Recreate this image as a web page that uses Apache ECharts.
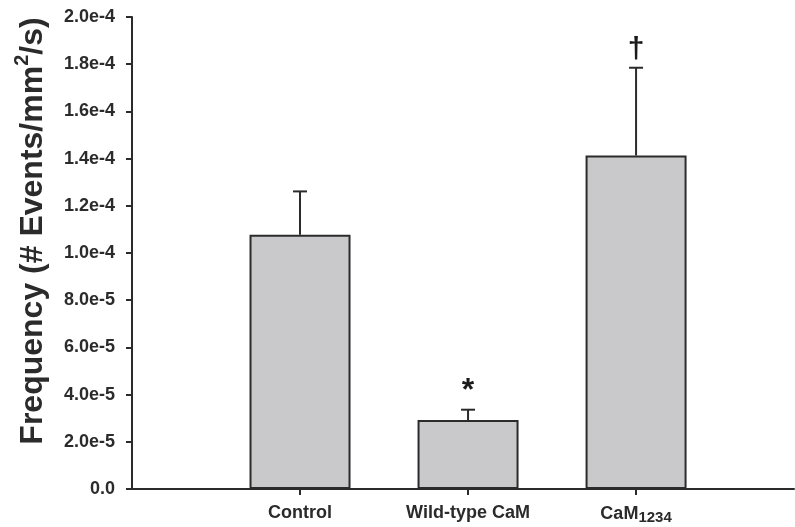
<!DOCTYPE html>
<html>
<head>
<meta charset="utf-8">
<script src="https://cdn.jsdelivr.net/npm/echarts@6/dist/echarts.min.js"></script>
<style>
  html, body { margin: 0; padding: 0; background: #fff; }
  #chart { width: 795px; height: 527px; }
</style>
</head>
<body>
<div id="chart"></div>
<script>
// Groups along the x axis and their positions
const categories = ['Control', 'Wild-type CaM', 'CaM1234'];
const positions = [1, 2, 3];
// Mean event frequency (# events / mm^2 / s)
const means = [1.077e-4, 2.92e-5, 1.413e-4];
// Upper error (SEM)
const errors = [1.84e-5, 4.4e-6, 3.72e-5];
// Significance markers drawn above the error bars
const marks = ['', '*', '\u2020'];
// Y tick labels, from 0 up to 2.0e-4
const yTickLabels = ['0.0', '2.0e-5', '4.0e-5', '6.0e-5', '8.0e-5', '1.0e-4',
                     '1.2e-4', '1.4e-4', '1.6e-4', '1.8e-4', '2.0e-4'];

const FONT = 'Liberation Sans, Arial, sans-serif';
const INK = '#2b2b2b';

const chart = echarts.init(document.getElementById('chart'), null, { renderer: 'canvas' });

const barData = positions.map((p, i) => [p, means[i]]);
const errData = positions.map((p, i) => [p, means[i], errors[i], i]);

function catLabel(v) {
  const i = positions.indexOf(Math.round(v));
  if (i < 0) return '';
  const name = categories[i];
  if (name === 'CaM1234') return '{b|CaM}{sub|1234}';
  return '{b|' + name + '}';
}

chart.setOption({
  backgroundColor: '#ffffff',
  animation: false,
  grid: { left: 132, right: 1, top: 17, bottom: 38, outerBoundsMode: 'none' },
  xAxis: {
    type: 'value',
    min: 0,
    max: 3.94,
    splitLine: { show: false },
    axisLine: { show: true, lineStyle: { color: INK, width: 2 } },
    axisTick: { show: true, length: 6, lineStyle: { color: INK, width: 2 }, customValues: positions },
    axisLabel: {
      margin: 15,
      customValues: positions,
      formatter: catLabel,
      rich: {
        b: { fontFamily: FONT, fontWeight: 'bold', fontSize: 18, color: INK },
        sub: { fontFamily: FONT, fontWeight: 'bold', fontSize: 15, color: INK, padding: [6, 0, 0, 0], verticalAlign: 'bottom' }
      }
    }
  },
  yAxis: {
    type: 'value',
    min: 0,
    max: 2e-4,
    interval: 2e-5,
    splitLine: { show: false },
    axisLine: { show: true, lineStyle: { color: INK, width: 2 } },
    axisTick: { show: true, length: 6, lineStyle: { color: INK, width: 2 } },
    axisLabel: {
      margin: 17,
      fontFamily: FONT,
      fontWeight: 'bold',
      fontSize: 18,
      color: INK,
      formatter: (v) => yTickLabels[Math.round(v / 2e-5)]
    },
    name: '{t|Frequency (# Events/mm}{sup|2}{t|/s)}',
    nameLocation: 'middle',
    nameGap: 78,
    nameTextStyle: {
      padding: [0, 0, 0, 44],
      rich: {
        t: { fontFamily: FONT, fontWeight: 'bold', fontSize: 32, color: INK },
        sup: { fontFamily: FONT, fontWeight: 'bold', fontSize: 20, color: INK, padding: [0, 0, 22, 0], verticalAlign: 'bottom' }
      }
    }
  },
  series: [
    {
      type: 'bar',
      data: barData,
      barWidth: 101,
      itemStyle: { color: '#c9c9cb', borderColor: INK, borderWidth: 2 },
      z: 2
    },
    {
      type: 'custom',
      data: errData,
      z: 3,
      renderItem: function (params, api) {
        const x = api.value(0);
        const m = api.value(1);
        const e = api.value(2);
        const idx = api.value(3);
        const base = api.coord([x, m]);
        const top = api.coord([x, m + e]);
        const half = 7;
        const style = { stroke: INK, lineWidth: 2 };
        const children = [
          { type: 'line', shape: { x1: base[0], y1: base[1], x2: top[0], y2: top[1] }, style: style },
          { type: 'line', shape: { x1: top[0] - half, y1: top[1], x2: top[0] + half, y2: top[1] }, style: style }
        ];
        const mk = marks[idx];
        if (mk) {
          const isStar = mk === '*';
          children.push({
            type: 'text',
            x: top[0],
            y: top[1] - 3,
            style: {
              text: mk,
              fontFamily: FONT,
              fontWeight: 'bold',
              fontSize: isStar ? 32 : 30,
              fill: '#1a1a1a',
              align: 'center',
              verticalAlign: 'bottom'
            }
          });
        }
        return { type: 'group', children: children };
      }
    }
  ]
});
</script>
</body>
</html>
